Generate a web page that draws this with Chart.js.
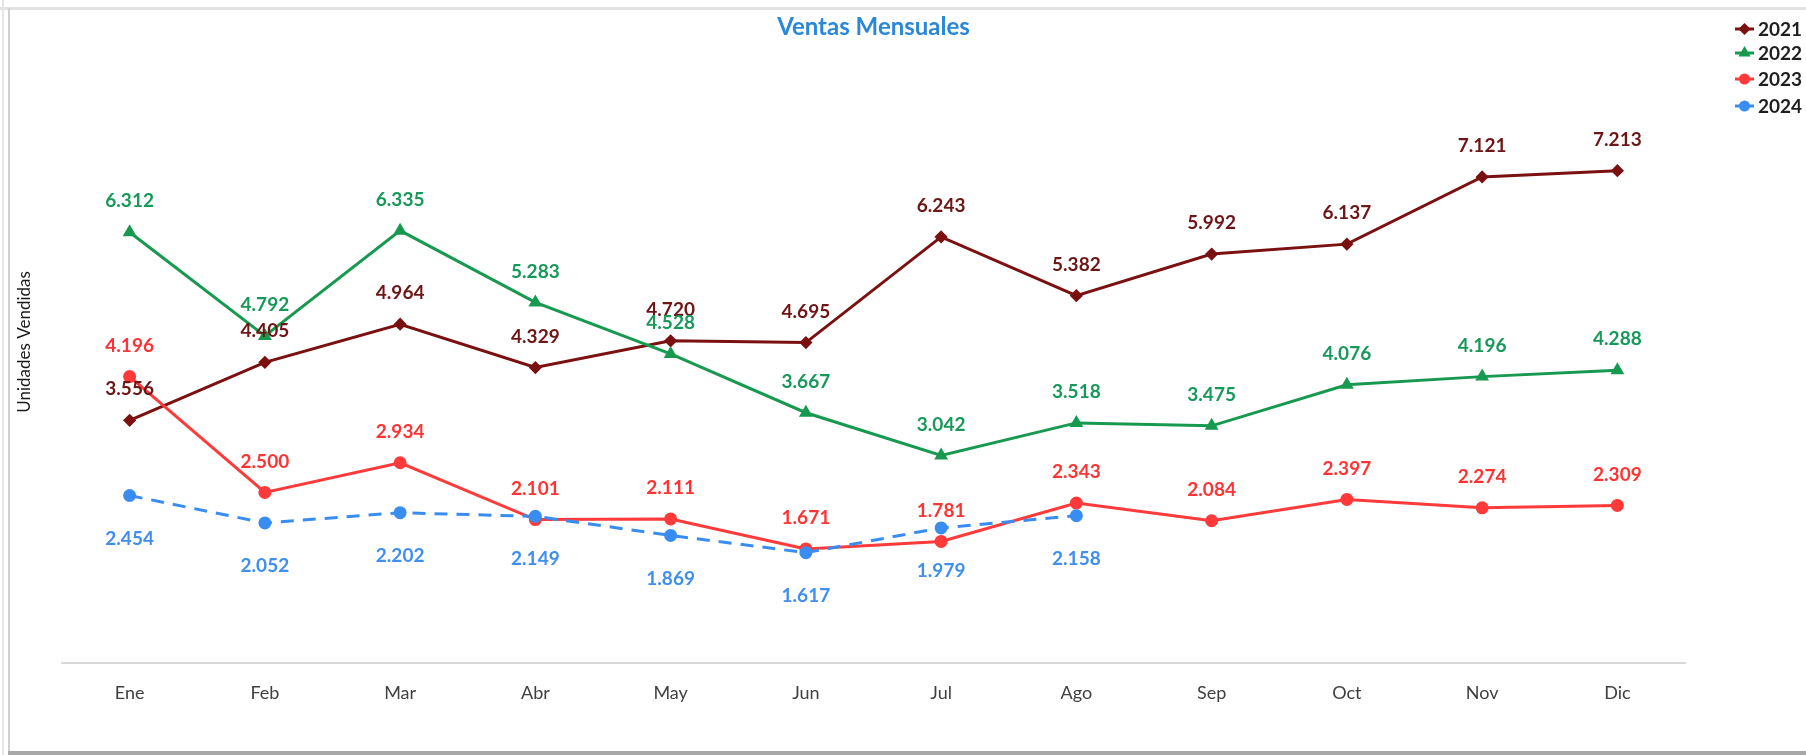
<!DOCTYPE html>
<html>
<head>
<meta charset="utf-8">
<script src="https://cdn.jsdelivr.net/npm/chart.js@4.4.1/dist/chart.umd.min.js"></script>
<style>
html,body{margin:0;padding:0;background:#fff;}
#wrap{width:1806px;height:755px;position:relative;}
</style>
</head>
<body>
<div id="wrap"><canvas id="c" width="1806" height="755"></canvas></div>
<script>
const categories = ['Ene','Feb','Mar','Abr','May','Jun','Jul','Ago','Sep','Oct','Nov','Dic'];
const seriesNames = ['2021','2022','2023','2024'];
const v2021 = [3556, 4405, 4964, 4329, 4720, 4695, 6243, 5382, 5992, 6137, 7121, 7213];
const v2022 = [6312, 4792, 6335, 5283, 4528, 3667, 3042, 3518, 3475, 4076, 4196, 4288];
const v2023 = [4196, 2500, 2934, 2101, 2111, 1671, 1781, 2343, 2084, 2397, 2274, 2309];
const v2024 = [2454, 2052, 2202, 2149, 1869, 1617, 1979, 2158, null, null, null, null];
const chartTitle = 'Ventas Mensuales';
const yTitle = 'Unidades Vendidas';

const colors = ['#7b1010', '#17994f', '#ff3a3a', '#3a8df0'];
const labelColors = ['#6e1616', '#17995a', '#ff3333', '#3f8ef0'];
const markers = ['rectRot', 'triangle', 'circle', 'circle'];
const labelPos = ['above', 'above', 'above', 'below'];

function fmt(n){
  const s = String(Math.round(n));
  return s.replace(/\B(?=(\d{3})+(?!\d))/g, '.');
}

const FONT = 'Lato, "Open Sans", "DejaVu Sans", sans-serif';

const decorPlugin = {
  id: 'decor',
  beforeDraw(chart){
    const ctx = chart.ctx;
    ctx.save();
    ctx.fillStyle = '#ffffff';
    ctx.fillRect(0,0,chart.width,chart.height);
    ctx.strokeStyle = '#e2e2e2'; ctx.lineWidth = 3;
    ctx.beginPath(); ctx.moveTo(0, 8.5); ctx.lineTo(chart.width, 8.5); ctx.stroke();
    ctx.strokeStyle = '#e6e6e6'; ctx.lineWidth = 2;
    ctx.beginPath(); ctx.moveTo(3, 0); ctx.lineTo(3, chart.height); ctx.stroke();
    ctx.strokeStyle = '#d0d0d0'; ctx.lineWidth = 2;
    ctx.beginPath(); ctx.moveTo(9, 8); ctx.lineTo(9, 752); ctx.stroke();
    ctx.strokeStyle = '#a8a8a8'; ctx.lineWidth = 4;
    ctx.beginPath(); ctx.moveTo(8, 753); ctx.lineTo(chart.width, 753); ctx.stroke();
    ctx.restore();
  },
  afterDraw(chart){
    const ctx = chart.ctx;
    const area = chart.chartArea;
    ctx.save();
    ctx.fillStyle = '#2b87d8';
    ctx.font = 'bold 24px ' + FONT;
    ctx.textAlign = 'center'; ctx.textBaseline = 'middle';
    ctx.fillText(chartTitle, (area.left + area.right)/2, 27);
    ctx.save();
    ctx.translate(25, 342);
    ctx.rotate(-Math.PI/2);
    ctx.fillStyle = '#1a1a1a';
    ctx.font = '17px ' + FONT;
    ctx.fillText(yTitle, 0, 0);
    ctx.restore();
    const ys = [29, 53, 79, 106];
    chart.data.datasets.forEach((ds, i) => {
      const y = ys[i];
      ctx.strokeStyle = ds.borderColor; ctx.lineWidth = 3;
      ctx.setLineDash([]);
      ctx.beginPath(); ctx.moveTo(1735, y); ctx.lineTo(1754, y); ctx.stroke();
      ctx.fillStyle = ds.borderColor;
      ctx.beginPath();
      Chart.helpers.drawPoint(ctx, {pointStyle: ds.pointStyle, radius: 4, borderWidth: 1}, 1744.5, y);
      ctx.fill();
      ctx.fillStyle = '#1f1f1f';
      ctx.font = 'bold 19px ' + FONT;
      ctx.textAlign = 'left'; ctx.textBaseline = 'middle';
      ctx.fillText(ds.label, 1758, y + 1);
    });
    ctx.restore();
  },
  afterDatasetsDraw(chart){
    const ctx = chart.ctx;
    ctx.save();
    ctx.font = 'bold 19px ' + FONT;
    ctx.textAlign = 'center'; ctx.textBaseline = 'middle';
    chart.data.datasets.forEach((ds, i) => {
      const meta = chart.getDatasetMeta(i);
      meta.data.forEach((pt, j) => {
        const v = ds.data[j];
        if (v === null || v === undefined) return;
        const dy = labelPos[i] === 'below' ? 43 : -31;
        ctx.fillStyle = labelColors[i];
        ctx.fillText(fmt(v), pt.x, pt.y + dy);
      });
    });
    ctx.restore();
  }
};

const allSeries = [v2021, v2022, v2023, v2024];
const datasets = allSeries.map((arr, i) => ({
  label: seriesNames[i],
  data: arr,
  borderColor: colors[i],
  backgroundColor: colors[i],
  pointBackgroundColor: colors[i],
  pointBorderColor: colors[i],
  pointStyle: markers[i],
  pointRadius: i === 0 ? 4.5 : 5,
  pointHoverRadius: 5,
  borderWidth: 3,
  borderDash: i === 3 ? [13, 9] : [],
  tension: 0,
  spanGaps: false,
  fill: false,
  order: 3 - i
}));

new Chart(document.getElementById('c'), {
  type: 'line',
  data: { labels: categories, datasets },
  options: {
    responsive: false,
    animation: false,
    devicePixelRatio: 1,
    layout: { padding: { left: 62, right: 121, top: 117, bottom: 0 } },
    plugins: {
      legend: { display: false },
      title: { display: false },
      tooltip: { enabled: false }
    },
    scales: {
      x: {
        offset: true,
        grid: { display: false, drawTicks: false },
        border: { display: true, color: '#d9d9d9', width: 2 },
        ticks: { color: '#404040', font: { family: FONT, size: 18 }, padding: 19, maxRotation: 0 },
        afterFit(scale){ scale.height = 92; }
      },
      y: {
        display: false,
        min: 0,
        max: 8000
      }
    }
  },
  plugins: [decorPlugin]
});
</script>
</body>
</html>
